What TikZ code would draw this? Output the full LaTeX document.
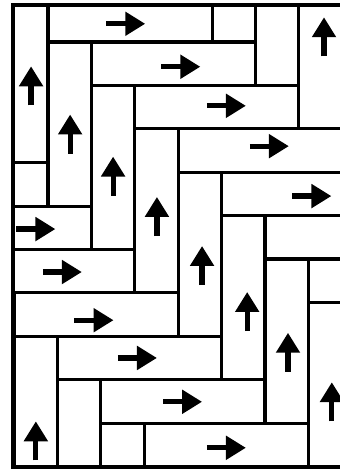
\documentclass[tikz,border=0pt]{standalone}
\usepackage{amsmath}
\usetikzlibrary{arrows.meta}

\begin{document}
\begin{tikzpicture}[x=1cm,y=-1cm]

    \tikzset{
      BrickStyle/.style = { draw, line width = 2pt },
      FrameStyle/.style = { draw, line width = 2.4pt },
      UpStyle/.style = { line width = 3.4pt,
                         -{Triangle[length=4.6mm,width=5.3mm]} },
      RightStyle/.style = { UpStyle } }
    \useasboundingbox (-1.106,-0.968) rectangle (6.728,9.977);

    \begin{scope}
      \clip (-0.8,-0.86) rectangle (6.728,9.79);
      % first run, upright bricks
      \draw[BrickStyle] (-1,-1) rectangle (0,2.78);
      \draw[BrickStyle] (0,0) rectangle (1,3.78);
      \draw[BrickStyle] (1,1) rectangle (2,4.78);
      \draw[BrickStyle] (2,2) rectangle (3,5.78);
      \draw[BrickStyle] (3,3) rectangle (4,6.78);
      \draw[BrickStyle] (4,4) rectangle (5,7.78);
      \draw[BrickStyle] (5,5) rectangle (6,8.78);
      \draw[BrickStyle] (6,6) rectangle (7,9.78);
      % first run, lying bricks
      \draw[BrickStyle] (0,-1) rectangle (3.78,0);
      \draw[BrickStyle] (1,0) rectangle (4.78,1);
      \draw[BrickStyle] (2,1) rectangle (5.78,2);
      \draw[BrickStyle] (3,2) rectangle (6.78,3);
      \draw[BrickStyle] (4,3) rectangle (7.78,4);
      \draw[BrickStyle] (5,4) rectangle (8.78,5);
      \draw[BrickStyle] (6,5) rectangle (9.78,6);
      % lower run
      \draw[BrickStyle] (-0.78,6.78) rectangle (0.22,10.56);
      \draw[BrickStyle] (0.22,7.78) rectangle (1.22,11.56);
      \draw[BrickStyle] (1.22,8.78) rectangle (2.22,12.56);
      \draw[BrickStyle] (-3.78,2.78) rectangle (0,3.78);
      \draw[BrickStyle] (-2.78,3.78) rectangle (1,4.78);
      \draw[BrickStyle] (-1.78,4.78) rectangle (2,5.78);
      \draw[BrickStyle] (-0.78,5.78) rectangle (3,6.78);
      \draw[BrickStyle] (0.22,6.78) rectangle (4,7.78);
      \draw[BrickStyle] (1.22,7.78) rectangle (5,8.78);
      \draw[BrickStyle] (2.22,8.78) rectangle (6,9.78);
      % upper run
      \draw[BrickStyle] (3.78,-3.78) rectangle (4.78,0);
      \draw[BrickStyle] (4.78,-2.78) rectangle (5.78,1);
      \draw[BrickStyle] (5.78,-1.78) rectangle (6.78,2);
    \end{scope}

    % frame, open on the right
    \draw[FrameStyle] (6.728,-0.86) -- (-0.8,-0.86) -- (-0.8,9.79) -- (6.728,9.79);

    % up arrows
    \draw[UpStyle] (-0.39,1.46) -- (-0.39,0.56);
    \draw[UpStyle] (0.51,2.57) -- (0.51,1.67);
    \draw[UpStyle] (1.5,3.54) -- (1.5,2.64);
    \draw[UpStyle] (2.51,4.47) -- (2.51,3.57);
    \draw[UpStyle] (3.55,5.6) -- (3.55,4.7);
    \draw[UpStyle] (4.59,6.66) -- (4.59,5.76);
    \draw[UpStyle] (5.53,7.6) -- (5.53,6.7);
    \draw[UpStyle] (6.54,8.74) -- (6.54,7.84);
    \draw[UpStyle] (6.36,0.33) -- (6.36,-0.57);
    \draw[UpStyle] (-0.28,9.64) -- (-0.28,8.74);

    % right arrows
    \draw[RightStyle] (1.34,-0.42) -- (2.24,-0.42);
    \draw[RightStyle] (2.61,0.57) -- (3.51,0.57);
    \draw[RightStyle] (3.66,1.47) -- (4.56,1.47);
    \draw[RightStyle] (4.65,2.4) -- (5.55,2.4);
    \draw[RightStyle] (5.63,3.55) -- (6.53,3.55);
    \draw[RightStyle] (-0.73,4.31) -- (0.17,4.31);
    \draw[RightStyle] (-0.12,5.3) -- (0.78,5.3);
    \draw[RightStyle] (0.61,6.41) -- (1.51,6.41);
    \draw[RightStyle] (1.61,7.28) -- (2.51,7.28);
    \draw[RightStyle] (2.65,8.29) -- (3.55,8.29);
    \draw[RightStyle] (3.66,9.35) -- (4.56,9.35);

\end{tikzpicture}
\end{document}
